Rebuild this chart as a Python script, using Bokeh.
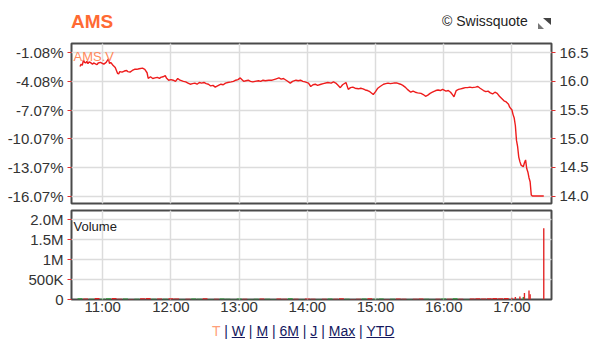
from bokeh.plotting import figure
from bokeh.models import Range1d, LinearAxis, FixedTicker, Label, Div, Grid
from bokeh.layouts import column
from bokeh.embed import file_html
from bokeh.resources import INLINE

# ---------------- data ----------------
price_times = ["10:40","10:41","10:42","10:43","10:44","10:45","10:46","10:47","10:48","10:49",
               "10:51","10:52","10:54","10:55","10:56","10:58","11:00","11:01","11:03","11:05",
               "11:06","11:07","11:09","11:11","11:13","11:14","11:15","11:17","11:19","11:21",
               "11:22","11:24","11:26","11:28","11:30","11:32","11:35","11:37","11:39","11:40",
               "11:42","11:44","11:46","11:48","11:50","11:51","11:53","11:55","11:56","11:58",
               "12:00","12:02","12:04","12:06","12:08","12:11","12:13","12:15","12:17","12:19",
               "12:21","12:23","12:25","12:27","12:29","12:31","12:33","12:35","12:37","12:39",
               "12:41","12:44","12:46","12:48","12:50","12:53","12:55","12:57","12:59","13:01",
               "13:03","13:04","13:06","13:08","13:10","13:12","13:14","13:17","13:19","13:21",
               "13:23","13:26","13:29","13:32","13:35","13:37","13:39","13:42","13:45","13:47",
               "13:50","13:52","13:54","13:56","13:58","14:01","14:03","14:05","14:07","14:09",
               "14:12","14:14","14:18","14:21","14:23","14:25","14:27","14:29","14:31","14:34",
               "14:36","14:38","14:40","14:42","14:45","14:47","14:49","14:51","14:53","14:55",
               "14:58","15:00","15:02","15:04","15:07","15:09","15:11","15:13","15:16","15:19",
               "15:22","15:24","15:26","15:28","15:31","15:33","15:35","15:37","15:40","15:42",
               "15:44","15:46","15:48","15:50","15:53","15:55","15:57","15:59","16:02","16:04",
               "16:06","16:08","16:09","16:11","16:13","16:15","16:17","16:19","16:21","16:23",
               "16:25","16:28","16:30","16:32","16:35","16:37","16:39","16:41","16:43","16:45",
               "16:47","16:49","16:51","16:53","16:55","16:57","16:58","17:00","17:01","17:02",
               "17:03","17:04","17:05","17:06","17:07","17:08","17:10","17:11","17:12","17:13",
               "17:14","17:15","17:16","17:17","17:18","17:28"]
price_values = [16.26,16.30,16.28,16.37,16.33,16.32,16.35,16.31,16.34,16.33,
                16.30,16.32,16.30,16.29,16.32,16.33,16.31,16.30,16.33,16.39,
                16.31,16.33,16.28,16.24,16.14,16.13,16.17,16.16,16.18,16.19,
                16.17,16.16,16.19,16.21,16.21,16.22,16.23,16.21,16.15,16.05,
                16.08,16.05,16.06,16.07,16.05,16.07,16.08,16.10,16.06,16.02,
                16.03,16.02,16.00,16.05,16.02,16.00,15.99,15.97,15.95,15.96,
                15.97,15.95,15.98,15.97,15.98,15.96,15.95,15.92,15.93,15.90,
                15.92,15.95,15.94,15.97,15.98,15.99,16.00,16.02,16.03,16.06,
                16.02,16.00,16.01,16.02,16.00,15.99,16.00,16.01,16.00,16.02,
                16.01,16.02,16.02,16.04,16.06,16.04,16.05,16.01,15.97,16.00,
                16.02,16.01,16.02,16.00,15.99,15.97,15.91,15.94,15.95,15.93,
                15.95,15.96,15.98,15.97,15.99,15.97,15.93,15.89,15.94,15.98,
                15.86,15.89,15.90,15.88,15.87,15.88,15.87,15.85,15.84,15.82,
                15.77,15.82,15.88,15.91,15.95,15.96,15.97,15.96,15.97,15.97,
                15.95,15.93,15.90,15.86,15.81,15.83,15.81,15.80,15.79,15.77,
                15.74,15.76,15.79,15.81,15.84,15.85,15.84,15.86,15.83,15.84,
                15.81,15.76,15.73,15.84,15.86,15.87,15.88,15.89,15.89,15.90,
                15.89,15.90,15.91,15.88,15.84,15.82,15.83,15.80,15.78,15.81,
                15.79,15.74,15.70,15.66,15.64,15.60,15.55,15.50,15.42,15.36,
                15.23,14.97,14.86,14.68,14.60,14.54,14.51,14.58,14.63,14.48,
                14.42,14.32,14.25,14.02,14.00,14.00]

price_ticks = [14.0, 14.5, 15.0, 15.5, 16.0, 16.5]
price_tick_labels = ["14.0", "14.5", "15.0", "15.5", "16.0", "16.5"]
pct_tick_labels = ["-16.07%", "-13.07%", "-10.07%", "-7.07%", "-4.08%", "-1.08%"]

hour_ticks = [11, 12, 13, 14, 15, 16, 17]
hour_labels = ["11:00", "12:00", "13:00", "14:00", "15:00", "16:00", "17:00"]

vol_ticks = [0, 500000, 1000000, 1500000, 2000000]
vol_tick_labels = ["0", "500K", "1M", "1.5M", "2.0M"]

vol_times = ["10:40","10:45","10:50","10:55","11:00","11:05","11:10","11:15","11:20","11:25",
             "11:30","11:35","11:40","11:45","11:50","11:55","12:00","12:05","12:10","12:15",
             "12:20","12:25","12:30","12:35","12:40","12:45","12:50","12:55","13:00","13:05",
             "13:10","13:15","13:20","13:25","13:30","13:35","13:40","13:45","13:50","13:55",
             "14:00","14:05","14:10","14:15","14:20","14:25","14:30","14:35","14:40","14:45",
             "14:50","14:55","15:00","15:05","15:10","15:15","15:20","15:25","15:30","15:35",
             "15:40","15:45","15:50","15:55","16:00","16:05","16:10","16:15","16:20","16:25",
             "16:30","16:35","16:40","16:45","16:50","16:55"]
vol_values = [30,25,20,35,20,30,40,20,25,15,
              20,30,35,20,25,20,30,25,15,20,
              25,20,30,15,20,25,20,15,25,20,
              15,20,25,20,15,25,20,30,20,15,
              25,20,15,20,25,20,30,20,15,20,
              25,30,20,25,15,20,25,20,15,20,
              25,20,15,20,25,20,30,20,15,25,
              30,25,30,35,30,40]  # thousands
vol_dirs = ["g","r","g","r","g","g","r","r","g","r",
            "g","r","r","g","r","g","r","r","g","r",
            "g","g","r","g","r","g","g","g","g","r",
            "g","g","r","g","g","r","r","g","r","g",
            "r","r","g","r","g","r","r","g","r","r",
            "g","r","g","g","r","g","r","r","g","r",
            "r","g","g","r","g","r","g","r","g","r",
            "r","r","r","r","r","r"]

spike_times = ["17:00","17:03","17:07","17:10","17:11","17:15","17:16","17:28"]
spike_values = [45, 60, 75, 60, 165, 225, 130, 1775]  # thousands
spike_dirs = ["r","r","r","g","r","r","r","r"]

title_text = "AMS"
symbol_text = "AMS.V"
credit_text = "© Swissquote"
period_links = ["W", "M", "6M", "J", "Max", "YTD"]

# ---------------- helpers ----------------
def to_h(s):
    h, m = s.split(":")
    return int(h) + int(m) / 60.0

COL = {"r": "#e32222", "g": "#2a9a35"}
FONT = "Liberation Sans"
LBL = "#333333"
TICK_RED = "#e03030"
GRID = "#dcdcdc"
BORDER = "#4a4a4a"

x_range = Range1d(10.542, 17.580)

# ---------------- header ----------------
head_html = (
    '<div style="position:relative;width:616px;height:40px;font-family:\'Liberation Sans\',Arial,sans-serif;">'
    '<span style="position:absolute;left:71px;top:11px;font-size:19px;font-weight:bold;'
    'line-height:22px;color:#ff6a33;">%s</span>'
    '<span style="position:absolute;left:442px;top:13px;font-size:14px;line-height:16px;'
    'color:#222;white-space:nowrap;">%s</span>'
    '<span style="position:absolute;left:543px;top:18px;width:0;height:0;'
    'border-top:7px solid #444;border-left:8px solid transparent;"></span>'
    '<span style="position:absolute;left:538px;top:23px;width:0;height:0;'
    'border-bottom:6px solid #777;border-right:6px solid transparent;"></span>'
    '</div>' % (title_text, credit_text))
head = Div(text=head_html, width=616, height=40, styles={"margin": "0", "padding": "0"})

# ---------------- price figure ----------------
p = figure(width=616, height=167, x_range=x_range, y_range=Range1d(13.87, 16.66),
           x_axis_location=None, y_axis_location=None,
           output_backend="svg", toolbar_location=None,
           min_border_left=71, min_border_right=65, min_border_top=3, min_border_bottom=4)
p.outline_line_color = BORDER
p.outline_line_width = 2

p.add_layout(Grid(dimension=0, ticker=FixedTicker(ticks=hour_ticks),
                  grid_line_color=GRID, grid_line_width=1.5))
p.add_layout(Grid(dimension=1, ticker=FixedTicker(ticks=price_ticks),
                  grid_line_color=GRID, grid_line_width=1.5))

def style_axis(ax):
    ax.axis_line_color = None
    ax.major_tick_line_color = TICK_RED
    ax.major_tick_line_width = 1
    ax.major_tick_out = 4
    ax.major_tick_in = 0
    ax.minor_tick_line_color = None
    ax.major_label_text_font = FONT
    ax.major_label_text_font_size = "15px"
    ax.major_label_text_color = LBL
    ax.major_label_standoff = 4

left = LinearAxis(ticker=FixedTicker(ticks=price_ticks),
                  major_label_overrides={t: l for t, l in zip(price_ticks, pct_tick_labels)})
style_axis(left)
p.add_layout(left, "left")
right = LinearAxis(ticker=FixedTicker(ticks=price_ticks),
                   major_label_overrides={t: l for t, l in zip(price_ticks, price_tick_labels)})
style_axis(right)
p.add_layout(right, "right")

p.line([to_h(t) for t in price_times], price_values, line_color="#ee1c1c", line_width=1.4)

p.add_layout(Label(x=2, y=147, x_units="screen", y_units="screen", text=symbol_text,
                   text_font=FONT, text_font_size="13px", text_color="#ff8a5c",
                   text_baseline="alphabetic"))

# ---------------- volume figure ----------------
v = figure(width=616, height=114, x_range=x_range, y_range=Range1d(0, 2217500),
           x_axis_location=None, y_axis_location=None,
           output_backend="svg", toolbar_location=None,
           min_border_left=71, min_border_right=65, min_border_top=3, min_border_bottom=22)
v.outline_line_color = BORDER
v.outline_line_width = 2
v.add_layout(Grid(dimension=0, ticker=FixedTicker(ticks=hour_ticks),
                  grid_line_color=GRID, grid_line_width=1.5))
v.add_layout(Grid(dimension=1, ticker=FixedTicker(ticks=vol_ticks),
                  grid_line_color=GRID, grid_line_width=1.5))

vleft = LinearAxis(ticker=FixedTicker(ticks=vol_ticks),
                   major_label_overrides={t: l for t, l in zip(vol_ticks, vol_tick_labels)})
style_axis(vleft)
v.add_layout(vleft, "left")

vbottom = LinearAxis(ticker=FixedTicker(ticks=hour_ticks),
                     major_label_overrides={t: l for t, l in zip(hour_ticks, hour_labels)})
style_axis(vbottom)
vbottom.major_tick_line_color = None
vbottom.major_tick_out = 0
vbottom.major_label_standoff = -2
v.add_layout(vbottom, "below")

v.vbar(x=[to_h(t) for t in vol_times], top=[x * 1000 for x in vol_values],
       width=4.3 / 60.0, fill_color=[COL[d] for d in vol_dirs], line_color=None)
v.vbar(x=[to_h(t) for t in spike_times], top=[x * 1000 for x in spike_values],
       width=1.2 / 60.0, fill_color=[COL[d] for d in spike_dirs], line_color=None)

v.add_layout(Label(x=2, y=73.5, x_units="screen", y_units="screen", text="Volume",
                   text_font=FONT, text_font_size="13px", text_color="#222222",
                   text_baseline="alphabetic"))

# ---------------- period links ----------------
link = "color:#14185e;text-decoration:underline;"
sep = '<span style="color:#14185e;"> | </span>'
links_html = ('<span style="color:#ff9f7a;">T</span>' + sep +
              sep.join('<span style="%s">%s</span>' % (link, w) for w in period_links))
foot_html = ('<div style="position:relative;width:616px;height:31px;">'
             '<div style="position:absolute;left:212px;top:2px;white-space:nowrap;'
             'font-family:\'Liberation Sans\',Arial,sans-serif;font-size:14px;line-height:16px;">'
             + links_html + '</div></div>')
foot = Div(text=foot_html, width=616, height=31, styles={"margin": "0", "padding": "0"})

layout = column(head, p, v, foot, spacing=0)
open("out.html", "w").write(file_html(layout, INLINE))
